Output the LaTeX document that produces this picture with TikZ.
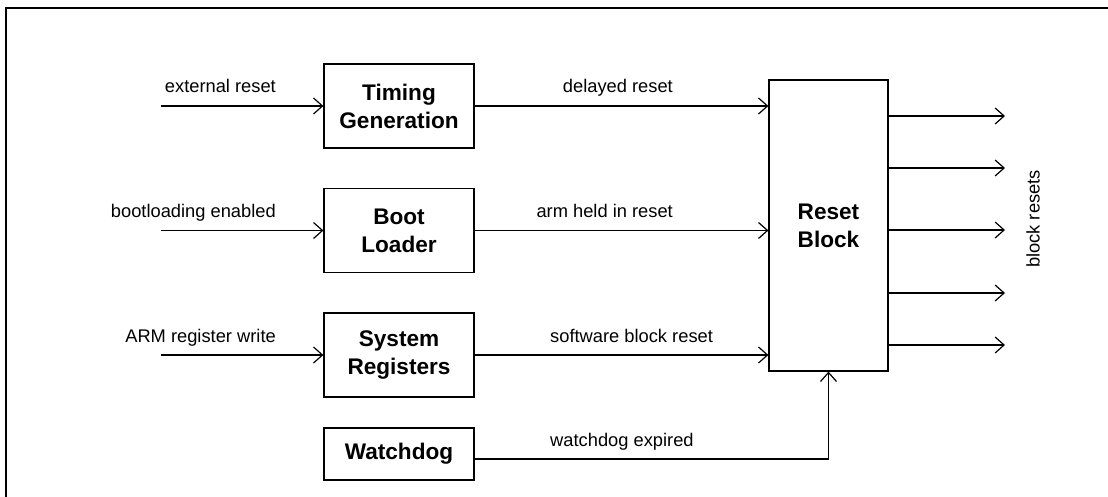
\documentclass[tikz,border=0pt]{standalone}
\usepackage{fontspec}
\setmainfont{Liberation Sans}
\usetikzlibrary{arrows.meta}
\begin{document}
\begin{tikzpicture}[x=1pt,y=-1pt,
  blk/.style={draw, line width=1.2pt, minimum width=150pt, minimum height=84pt, inner sep=0pt, align=center, font=\fontsize{22.6}{28}\selectfont\bfseries},
  lbl/.style={font=\fontsize{18.3}{22}\selectfont, inner sep=0pt},
  sig/.style={line width=1.2pt, -{Straight Barb[length=9pt,width=16pt,line width=1.2pt]}}
]
\useasboundingbox (0,0) rectangle (1108,497);
\draw[line width=2pt] (6,8) rectangle (1112,512);

% blocks
\node[blk] (timing) at (399,106) {Timing\\Generation};
\node[blk] (boot) at (399,230.5) {Boot\\Loader};
\node[blk] (sysreg) at (399,355) {System\\Registers};
\node[blk, minimum height=52pt] (wdog) at (399,454) {Watchdog};
\node[blk, minimum width=119pt, minimum height=291pt] (reset) at (828.5,225.5) {Reset\\Block};

% input coordinates
\coordinate (in1) at (161,106);
\coordinate (in2) at (161,230.5);
\coordinate (in3) at (161,355);

\draw[sig] (in1) -- (timing);
\draw[sig] (in2) -- (boot);
\draw[sig] (in3) -- (sysreg);

\draw[sig] (timing.east) -- (reset.west |- timing.east);
\draw[sig] (boot.east) -- (reset.west |- boot.east);
\draw[sig] (sysreg.east) -- (reset.west |- sysreg.east);
\draw[sig] ([yshift=-5pt]wdog.east) -| (reset.south);

% outputs
\coordinate (o1) at (1005,116);
\coordinate (o2) at (1005,168);
\coordinate (o3) at (1005,230);
\coordinate (o4) at (1005,293);
\coordinate (o5) at (1005,345);
\foreach \o in {o1,o2,o3,o4,o5}
  \draw[sig] (reset.east |- \o) -- (\o);

% labels
\node[lbl, anchor=base east] (l1) at (276,93) {external reset};
\node[lbl, anchor=base east] (l2) at (276,218) {bootloading enabled};
\node[lbl, anchor=base east] (l3) at (276,342) {ARM register write};
\node[lbl, anchor=base east] (l4) at (673,93) {delayed reset};
\node[lbl, anchor=base east] (l5) at (673,218) {arm held in reset};
\node[lbl, anchor=base west] (l6) at (550,342) {software block reset};
\node[lbl, anchor=base west] (l7) at (550,446) {watchdog expired};
\node[lbl, rotate=90] (l8) at (1033,219) {block resets};
\end{tikzpicture}
\end{document}
